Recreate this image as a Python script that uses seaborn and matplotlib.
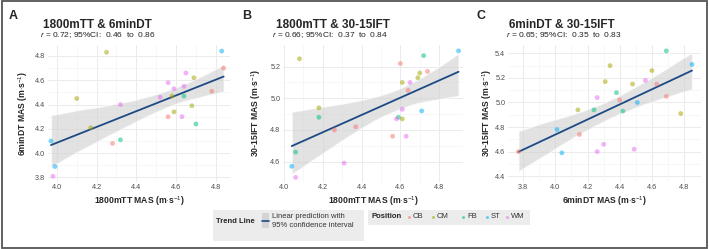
import numpy as np
import pandas as pd
import matplotlib
matplotlib.use("Agg")
import matplotlib.pyplot as plt
import seaborn as sns
from matplotlib.patches import Rectangle
from matplotlib.lines import Line2D

# 数据：从参考图读取（A: 1800mTT vs 6minDT, B: 1800mTT vs 30-15IFT, C: 6minDT vs 30-15IFT）
a_x = [3.97, 3.99, 3.98, 4.10, 4.25, 4.17, 4.28, 4.32, 4.32, 4.83, 4.84, 4.65, 4.69,
       4.56, 4.59, 4.64, 4.52, 4.58, 4.64, 4.78, 4.59, 4.68, 4.56, 4.63, 4.70]
a_y = [4.10, 3.89, 3.81, 4.45, 4.83, 4.21, 4.08, 4.40, 4.11, 4.84, 4.70, 4.66, 4.62,
       4.58, 4.53, 4.55, 4.46, 4.47, 4.47, 4.51, 4.34, 4.39, 4.30, 4.30, 4.24]
a_pos = ["ST", "ST", "WM", "CM", "CM", "CM", "CB", "WM", "FB", "ST", "CB", "WM", "CM",
         "WM", "WM", "WM", "WM", "CM", "FB", "CB", "CM", "CM", "CB", "WM", "FB"]

b_x = [4.08, 4.18, 4.18, 4.26, 4.06, 4.04, 4.06, 4.31, 4.37, 4.72, 4.90, 4.60, 4.70,
       4.74, 4.69, 4.61, 4.65, 4.64, 4.61, 4.71, 4.59, 4.58, 4.61, 4.56, 4.63]
b_y = [5.25, 4.94, 4.88, 4.80, 4.66, 4.57, 4.50, 4.59, 4.82, 5.27, 5.30, 5.22, 5.16,
       5.17, 5.13, 5.10, 5.10, 5.05, 4.93, 4.92, 4.88, 4.87, 4.87, 4.76, 4.76]
b_pos = ["CM", "CM", "FB", "CB", "FB", "ST", "WM", "WM", "CB", "FB", "ST", "CB", "CM",
         "CB", "CM", "CM", "WM", "CB", "WM", "ST", "FB", "WM", "CM", "CB", "WM"]

c_x = [3.77, 4.01, 4.04, 4.15, 4.14, 4.24, 4.26, 4.26, 4.30, 4.31, 4.34, 4.38,
       4.40, 4.42, 4.48, 4.49, 4.51, 4.56, 4.60, 4.63, 4.69, 4.69, 4.85, 4.78]
c_y = [4.60, 4.78, 4.59, 4.74, 4.94, 4.94, 5.04, 4.60, 4.66, 5.17, 5.30, 5.08,
       5.02, 4.93, 5.15, 4.62, 5.00, 5.18, 5.26, 5.15, 5.05, 5.42, 5.31, 4.91]
c_pos = ["CB", "ST", "ST", "CB", "CM", "FB", "WM", "WM", "WM", "CM", "CM", "FB",
         "CB", "FB", "CM", "WM", "ST", "WM", "CM", "CB", "CB", "FB", "ST", "CM"]

positions = ["CB", "CM", "FB", "ST", "WM"]
pos_colors = ["#F8766D", "#A3A500", "#00BF7D", "#00B0F6", "#E76BF3"]

panel_letters = ["A", "B", "C"]
titles = ["1800mTT & 6minDT", "1800mTT & 30-15IFT", "6minDT & 30-15IFT"]
r_text = ["0.72", "0.66", "0.65"]
ci_lo = ["0.46", "0.37", "0.35"]
ci_hi = ["0.86", "0.84", "0.83"]
x_labels = ["1800mTT MAS", "1800mTT MAS", "6minDT MAS"]
y_labels = ["6minDT MAS", "30-15IFT MAS", "30-15IFT MAS"]

W, H = 709, 249
LINE_COL = "#1d4a85"
TXT_GRAY = "#4d4d4d"

sns.set_theme(style="whitegrid")
plt.rcParams["font.family"] = ["Liberation Sans", "DejaVu Sans"]
plt.rcParams["mathtext.fontset"] = "custom"
plt.rcParams["mathtext.rm"] = "Liberation Sans"
plt.rcParams["mathtext.it"] = "Liberation Sans:italic"
plt.rcParams["mathtext.bf"] = "Liberation Sans:bold"


def fx(px):
    return px / W


def fy(py):
    return 1 - py / H


fig = plt.figure(figsize=(W / 100, H / 100), dpi=100)
fig.patch.set_facecolor("white")

# 面板位置（像素）：left, right, xlim, ylim, yticks
panels = [
    dict(x=a_x, y=a_y, pos=a_pos, left=48, right=230, xlim=(3.955, 4.872),
         ylim=(3.767, 4.89), yticks=[3.8, 4.0, 4.2, 4.4, 4.6, 4.8],
         xticks=[4.0, 4.2, 4.4, 4.6, 4.8], title_x=43, sub_x=40, letter_x=9, ylab_x=23),
    dict(x=b_x, y=b_y, pos=b_pos, left=283, right=463, xlim=(3.995, 4.923),
         ylim=(4.474, 5.337), yticks=[4.6, 4.8, 5.0, 5.2],
         xticks=[4.0, 4.2, 4.4, 4.6, 4.8], title_x=276, sub_x=272, letter_x=242, ylab_x=256),
    dict(x=c_x, y=c_y, pos=c_pos, left=508, right=701, xlim=(3.705, 4.906),
         ylim=(4.357, 5.468), yticks=[4.4, 4.6, 4.8, 5.0, 5.2, 5.4],
         xticks=[3.8, 4.0, 4.2, 4.4, 4.6, 4.8], title_x=509, sub_x=506, letter_x=477, ylab_x=487),
]
top_px, bot_px = 45, 181.5

for i, p in enumerate(panels):
    ax = fig.add_axes([fx(p["left"]), fy(bot_px), fx(p["right"] - p["left"]), (bot_px - top_px) / H])
    df = pd.DataFrame({"x": p["x"], "y": p["y"], "Position": p["pos"]})

    # 线性回归 + 95% 置信区间
    sns.regplot(data=df, x="x", y="y", ax=ax, scatter=False, ci=95, n_boot=2000, seed=3,
                line_kws=dict(color=LINE_COL, lw=1.3, zorder=3))
    for coll in ax.collections:
        coll.set_facecolor("#cfcfcf")
        coll.set_alpha(0.6)
        coll.set_zorder(2)

    sns.scatterplot(data=df, x="x", y="y", hue="Position", hue_order=positions,
                    palette=dict(zip(positions, pos_colors)), ax=ax, s=12, alpha=0.52,
                    linewidth=0, legend=False, zorder=4)

    ax.set_xlim(p["xlim"])
    ax.set_ylim(p["ylim"])
    ax.set_xticks(p["xticks"])
    ax.set_yticks(p["yticks"])
    ax.set_xticks(np.array(p["xticks"][:-1]) + 0.1, minor=True)
    ax.set_yticks(np.array(p["yticks"][:-1]) + 0.1, minor=True)
    ax.set_xticklabels([f"{v:.1f}" for v in p["xticks"]])
    ax.set_yticklabels([f"{v:.1f}" for v in p["yticks"]])
    ax.set_facecolor("white")
    for s in ax.spines.values():
        s.set_visible(False)
    ax.grid(True, which="major", color="#ebebeb", lw=0.7)
    ax.grid(True, which="minor", color="#f2f2f2", lw=0.4)
    ax.tick_params(which="both", length=0, labelsize=5.2, labelcolor=TXT_GRAY, pad=2)
    ax.set_xlabel(x_labels[i] + r" (m$\cdot$s$^{-1}$)", fontsize=6.2, fontweight="bold", labelpad=2)
    ax.set_ylabel("")
    fig.text(fx(p["ylab_x"]), fy((top_px + bot_px) / 2),
             y_labels[i] + r" (m$\cdot$s$^{-1}$)", rotation=90, fontsize=6.2,
             fontweight="bold", ha="center", va="center")

    fig.text(fx(p["letter_x"]), fy(16), panel_letters[i], fontsize=9, fontweight="bold",
             ha="left", va="center")
    fig.text(fx(p["title_x"]), fy(25), titles[i], fontsize=8.5, fontweight="bold",
             ha="left", va="center")
    fig.text(fx(p["sub_x"]), fy(35.5),
             rf"$r$ = {r_text[i]}; 95%CI:  {ci_lo[i]}  to  {ci_hi[i]}",
             fontsize=6, ha="left", va="center", color="#222222")

# 图例：Trend Line
fig.patches.append(Rectangle((fx(213), fy(241)), fx(151), (241 - 210) / H,
                             transform=fig.transFigure, facecolor="#ececec", edgecolor="none"))
fig.text(fx(216), fy(221), "Trend Line", fontsize=5.5, fontweight="bold", ha="left", va="center")
fig.patches.append(Rectangle((fx(262), fy(228)), fx(7), 15 / H, transform=fig.transFigure,
                             facecolor="#d4d4d4", edgecolor="none"))
fig.lines.append(Line2D([fx(262), fx(269)], [fy(220.5), fy(220.5)], transform=fig.transFigure,
                        color=LINE_COL, lw=1.2))
fig.text(fx(272), fy(216.5), "Linear prediction with", fontsize=5.5, ha="left", va="center",
         color="#333333")
fig.text(fx(272), fy(225.5), "95% confidence interval", fontsize=5.5, ha="left", va="center",
         color="#333333")

# 图例：Position
fig.patches.append(Rectangle((fx(368), fy(225)), fx(162), (225 - 210) / H,
                             transform=fig.transFigure, facecolor="#ececec", edgecolor="none"))
fig.text(fx(371), fy(217), "Position", fontsize=5.5, fontweight="bold", ha="left", va="center")
dot_x = [409, 433, 463, 487, 507]
for k, (lab, col) in enumerate(zip(positions, pos_colors)):
    fig.lines.append(Line2D([fx(dot_x[k])], [fy(217)], transform=fig.transFigure, marker="o",
                            ms=2.2, color=col, alpha=0.55, lw=0, markeredgewidth=0))
    fig.text(fx(dot_x[k] + 4), fy(217), lab, fontsize=5.5, ha="left", va="center", color="#333333")

# 外框
fig.patches.append(Rectangle((fx(1.5), fy(247.5)), fx(705.5), 246 / H, transform=fig.transFigure,
                             facecolor="none", edgecolor="#555555", lw=1.3))

fig.savefig("out.png", dpi=100)
